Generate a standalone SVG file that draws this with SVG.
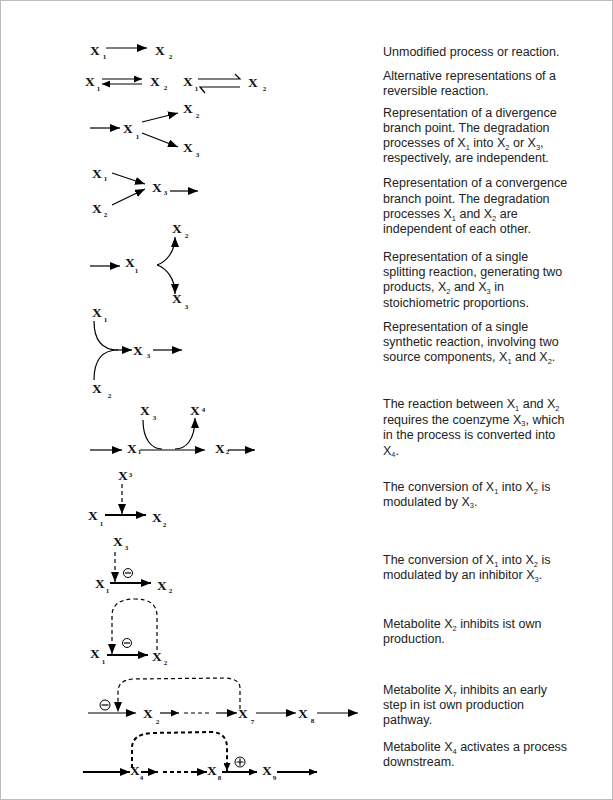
<svg xmlns="http://www.w3.org/2000/svg" width="613" height="800" viewBox="0 0 613 800">
<style>
.x{font-family:"Liberation Serif",serif;font-weight:bold;font-size:13.5px;fill:#111}
.s{font-size:7px}
.t{font-family:"Liberation Sans",Arial,sans-serif;font-size:12.5px;fill:#222}
.b{font-size:7.5px}
.ln{stroke:#000;stroke-width:1.2;fill:none}
.tk{stroke:#000;stroke-width:2;fill:none}
.ds{stroke-dasharray:4 3}
.ci{fill:#fff;stroke:#000;stroke-width:1}
</style>
<defs>
<marker id="ah" viewBox="0 0 10 8" refX="10" refY="4" markerWidth="10" markerHeight="8" markerUnits="userSpaceOnUse" orient="auto"><path d="M0,0L10,4L0,8z" fill="#000"/></marker>
<marker id="as" viewBox="0 0 8 7" refX="8" refY="3.5" markerWidth="8" markerHeight="7" markerUnits="userSpaceOnUse" orient="auto"><path d="M0,0L8,3.5L0,7z" fill="#000"/></marker>
</defs>
<rect x="0.5" y="0.5" width="612" height="799" fill="#fff" stroke="#bbb" stroke-width="1"/>

<g id="labels">
<text class="x" x="90" y="55">X<tspan class="s" dx="3" dy="4">1</tspan></text>
<text class="x" x="155" y="55">X<tspan class="s" dx="4" dy="4">2</tspan></text>
<text class="x" x="85" y="86">X<tspan class="s" dx="2" dy="5">1</tspan></text>
<text class="x" x="150" y="86">X<tspan class="s" dx="4" dy="4">2</tspan></text>
<text class="x" x="183" y="86">X<tspan class="s" dx="2" dy="5">1</tspan></text>
<text class="x" x="248" y="87">X<tspan class="s" dx="5" dy="4">2</tspan></text>
<text class="x" x="123" y="133">X<tspan class="s" dx="3" dy="6">1</tspan></text>
<text class="x" x="183" y="113">X<tspan class="s" dx="3" dy="5">2</tspan></text>
<text class="x" x="183" y="152">X<tspan class="s" dx="3" dy="5">3</tspan></text>
<text class="x" x="92" y="178">X<tspan class="s" dx="2" dy="3">1</tspan></text>
<text class="x" x="92" y="213">X<tspan class="s" dx="2" dy="4">2</tspan></text>
<text class="x" x="152" y="192">X<tspan class="s" dx="2" dy="3">3</tspan></text>
<text class="x" x="125" y="267">X<tspan class="s" dx="0" dy="6">1</tspan></text>
<text class="x" x="172" y="233">X<tspan class="s" dx="3" dy="5">2</tspan></text>
<text class="x" x="172" y="303">X<tspan class="s" dx="3" dy="6">3</tspan></text>
<text class="x" x="92" y="317">X<tspan class="s" dx="2" dy="5">1</tspan></text>
<text class="x" x="133" y="355">X<tspan class="s" dx="4" dy="3">3</tspan></text>
<text class="x" x="92" y="393">X<tspan class="s" dx="6" dy="5">2</tspan></text>
<text class="x" x="127" y="453">X<tspan class="s" dx="1" dy="1">1</tspan></text>
<text class="x" x="215" y="453">X<tspan class="s" dx="1" dy="1">2</tspan></text>
<text class="x" x="140" y="415">X<tspan class="s" dx="3" dy="5">3</tspan></text>
<text class="x" x="190" y="415">X<tspan class="s" dx="2" dy="-3">4</tspan></text>
<text class="x" x="118" y="480">X<tspan class="s" dx="1" dy="-3">3</tspan></text>
<text class="x" x="88" y="520">X<tspan class="s" dx="2" dy="6">1</tspan></text>
<text class="x" x="152" y="522">X<tspan class="s" dx="1" dy="5">2</tspan></text>
<text class="x" x="113" y="546">X<tspan class="s" dx="2" dy="4">3</tspan></text>
<text class="x" x="95" y="588">X<tspan class="s" dx="1" dy="5">1</tspan></text>
<text class="x" x="157" y="590">X<tspan class="s" dx="2" dy="3">2</tspan></text>
<text class="x" x="90" y="658">X<tspan class="s" dx="2" dy="6">1</tspan></text>
<text class="x" x="152" y="661">X<tspan class="s" dx="2" dy="4">2</tspan></text>
<text class="x" x="143" y="718">X<tspan class="s" dx="3" dy="6">2</tspan></text>
<text class="x" x="238" y="718">X<tspan class="s" dx="3" dy="6">7</tspan></text>
<text class="x" x="298" y="718">X<tspan class="s" dx="3" dy="5">8</tspan></text>
<text class="x" x="130" y="775">X<tspan class="s" dx="0" dy="5">4</tspan></text>
<text class="x" x="207" y="775">X<tspan class="s" dx="1" dy="5">8</tspan></text>
<text class="x" x="262" y="775">X<tspan class="s" dx="1" dy="5">9</tspan></text>
</g>

<g id="connectors">
<line class="ln" x1="106" y1="48" x2="147" y2="48" marker-end="url(#ah)"/>
<line class="ln" x1="102" y1="79" x2="142" y2="79" marker-end="url(#as)"/>
<line class="ln" x1="142" y1="84" x2="102" y2="84" marker-end="url(#as)"/>
<path class="ln" d="M198,79H240L235,74M240,87H200L205,93"/>
<line class="ln" x1="90" y1="128" x2="120" y2="128" marker-end="url(#ah)"/>
<line class="ln" x1="142" y1="122" x2="178" y2="113" marker-end="url(#ah)"/>
<line class="ln" x1="142" y1="133" x2="178" y2="147" marker-end="url(#ah)"/>
<line class="ln" x1="112" y1="173" x2="145" y2="184" marker-end="url(#ah)"/>
<line class="ln" x1="112" y1="205" x2="145" y2="189" marker-end="url(#ah)"/>
<line class="ln" x1="170" y1="191" x2="198" y2="191" marker-end="url(#ah)"/>
<line class="ln" x1="90" y1="266" x2="120" y2="266" marker-end="url(#ah)"/>
<path class="ln" d="M157,265C166,262 175,252 175,237" marker-end="url(#ah)"/>
<path class="ln" d="M157,265C166,268 175,278 175,294" marker-end="url(#ah)"/>
<path class="ln" d="M94,321C94,342 104,350 118,350M94,380C94,358 104,350 118,350"/>
<line class="ln" x1="116" y1="350" x2="132" y2="350" marker-end="url(#ah)"/>
<line class="ln" x1="153" y1="350" x2="182" y2="350" marker-end="url(#ah)"/>
<line class="ln" x1="90" y1="450" x2="122" y2="450" marker-end="url(#ah)"/>
<line class="ln" x1="140" y1="450" x2="205" y2="450" marker-end="url(#ah)"/>
<line class="ln" x1="228" y1="450" x2="255" y2="450" marker-end="url(#ah)"/>
<path class="ln" d="M143,420C143,440 152,449 162,449"/>
<path class="ln" d="M175,449C186,449 195,440 195,418" marker-end="url(#ah)"/>
<line class="ln ds" x1="122" y1="484" x2="122" y2="514" marker-end="url(#ah)"/>
<line class="tk" x1="105" y1="515" x2="146" y2="515" marker-end="url(#ah)"/>
<line class="ln ds" x1="115" y1="552" x2="115" y2="582" marker-end="url(#ah)"/>
<line class="tk" x1="110" y1="583" x2="151" y2="583" marker-end="url(#ah)"/>
<path class="ln ds" d="M157,650V616Q157,599 135,599Q112,599 112,616V654" marker-end="url(#ah)"/>
<line class="tk" x1="107" y1="655" x2="148" y2="655" marker-end="url(#ah)"/>
<line class="ln" x1="88" y1="713" x2="136" y2="713" marker-end="url(#ah)"/>
<path class="ln ds" d="M240,709V688Q240,679 225,678L133,679Q118,680 118,692V712" marker-end="url(#ah)"/>
<line class="ln" x1="160" y1="713" x2="179" y2="713" marker-end="url(#as)"/>
<line class="ln ds" x1="184" y1="713" x2="211" y2="713"/>
<line class="ln" x1="216" y1="713" x2="237" y2="713" marker-end="url(#ah)"/>
<line class="ln" x1="256" y1="713" x2="296" y2="713" marker-end="url(#ah)"/>
<line class="ln" x1="317" y1="713" x2="358" y2="713" marker-end="url(#ah)"/>
<line class="tk" x1="83" y1="772" x2="130" y2="772" marker-end="url(#ah)"/>
<line class="tk" x1="141" y1="772" x2="158" y2="772" marker-end="url(#ah)"/>
<line class="tk ds" x1="163" y1="772" x2="192" y2="772"/>
<line class="tk" x1="192" y1="772" x2="207" y2="772" marker-end="url(#ah)"/>
<line class="tk" x1="222" y1="772" x2="257" y2="772" marker-end="url(#as)"/>
<line class="tk" x1="277" y1="772" x2="317" y2="772" marker-end="url(#as)"/>
<path class="tk ds" d="M132,768V748Q132,734 152,733L212,732Q227,733 227,748V771" marker-end="url(#as)"/>
</g>

<g id="modifiers">
<circle class="ci" cx="128" cy="573" r="4.5"/><line class="ln" x1="125" y1="573" x2="131" y2="573"/>
<circle class="ci" cx="127" cy="643" r="4.5"/><line class="ln" x1="124" y1="643" x2="130" y2="643"/>
<circle class="ci" cx="105" cy="705" r="5"/><line class="ln" x1="101.5" y1="705" x2="108.5" y2="705"/>
<circle class="ci" cx="240" cy="762" r="5"/><path class="ln" d="M236.5,762H243.5M240,758.5V765.5"/>
</g>

<g id="descriptions">
<text class="t" x="383" y="56">Unmodified process or reaction.</text>
<text class="t" x="383" y="80">Alternative representations of a</text>
<text class="t" x="383" y="94.5">reversible reaction.</text>
<text class="t" x="383" y="117">Representation of a divergence</text>
<text class="t" x="383" y="132">branch point. The degradation</text>
<text class="t" x="383" y="147">processes of X<tspan class="b" dy="2.5">1</tspan><tspan dy="-2.5"> into X</tspan><tspan class="b" dy="2.5">2</tspan><tspan dy="-2.5"> or X</tspan><tspan class="b" dy="2.5">3</tspan><tspan dy="-2.5">,</tspan></text>
<text class="t" x="383" y="162">respectively, are independent.</text>
<text class="t" x="383" y="187">Representation of a convergence</text>
<text class="t" x="383" y="203">branch point. The degradation</text>
<text class="t" x="383" y="218">processes X<tspan class="b" dy="2.5">1</tspan><tspan dy="-2.5"> and X</tspan><tspan class="b" dy="2.5">2</tspan><tspan dy="-2.5"> are</tspan></text>
<text class="t" x="383" y="233">independent of each other.</text>
<text class="t" x="383" y="261">Representation of a single</text>
<text class="t" x="383" y="275.5">splitting reaction, generating two</text>
<text class="t" x="383" y="291">products, X<tspan class="b" dy="2.5">2</tspan><tspan dy="-2.5"> and X</tspan><tspan class="b" dy="2.5">3</tspan><tspan dy="-2.5"> in</tspan></text>
<text class="t" x="383" y="306.5">stoichiometric proportions.</text>
<text class="t" x="383" y="331">Representation of a single</text>
<text class="t" x="383" y="346">synthetic reaction, involving two</text>
<text class="t" x="383" y="361">source components, X<tspan class="b" dy="2.5">1</tspan><tspan dy="-2.5"> and X</tspan><tspan class="b" dy="2.5">2</tspan><tspan dy="-2.5">.</tspan></text>
<text class="t" x="383" y="408">The reaction between X<tspan class="b" dy="2.5">1</tspan><tspan dy="-2.5"> and X</tspan><tspan class="b" dy="2.5">2</tspan></text>
<text class="t" x="383" y="423.5">requires the coenzyme X<tspan class="b" dy="2.5">3</tspan><tspan dy="-2.5">, which</tspan></text>
<text class="t" x="383" y="439">in the process is converted into</text>
<text class="t" x="383" y="454.5">X<tspan class="b" dy="2.5">4</tspan><tspan dy="-2.5">.</tspan></text>
<text class="t" x="383" y="491">The conversion of X<tspan class="b" dy="2.5">1</tspan><tspan dy="-2.5"> into X</tspan><tspan class="b" dy="2.5">2</tspan><tspan dy="-2.5"> is</tspan></text>
<text class="t" x="383" y="505.5">modulated by X<tspan class="b" dy="2.5">3</tspan><tspan dy="-2.5">.</tspan></text>
<text class="t" x="383" y="564">The conversion of X<tspan class="b" dy="2.5">1</tspan><tspan dy="-2.5"> into X</tspan><tspan class="b" dy="2.5">2</tspan><tspan dy="-2.5"> is</tspan></text>
<text class="t" x="383" y="579">modulated by an inhibitor X<tspan class="b" dy="2.5">3</tspan><tspan dy="-2.5">.</tspan></text>
<text class="t" x="383" y="628">Metabolite X<tspan class="b" dy="2.5">2</tspan><tspan dy="-2.5"> inhibits ist own</tspan></text>
<text class="t" x="383" y="642.5">production.</text>
<text class="t" x="383" y="694">Metabolite X<tspan class="b" dy="2.5">7</tspan><tspan dy="-2.5"> inhibits an early</tspan></text>
<text class="t" x="383" y="709">step in ist own production</text>
<text class="t" x="383" y="724">pathway.</text>
<text class="t" x="383" y="751">Metabolite X<tspan class="b" dy="2.5">4</tspan><tspan dy="-2.5"> activates a process</tspan></text>
<text class="t" x="383" y="766">downstream.</text>
</g>
</svg>
